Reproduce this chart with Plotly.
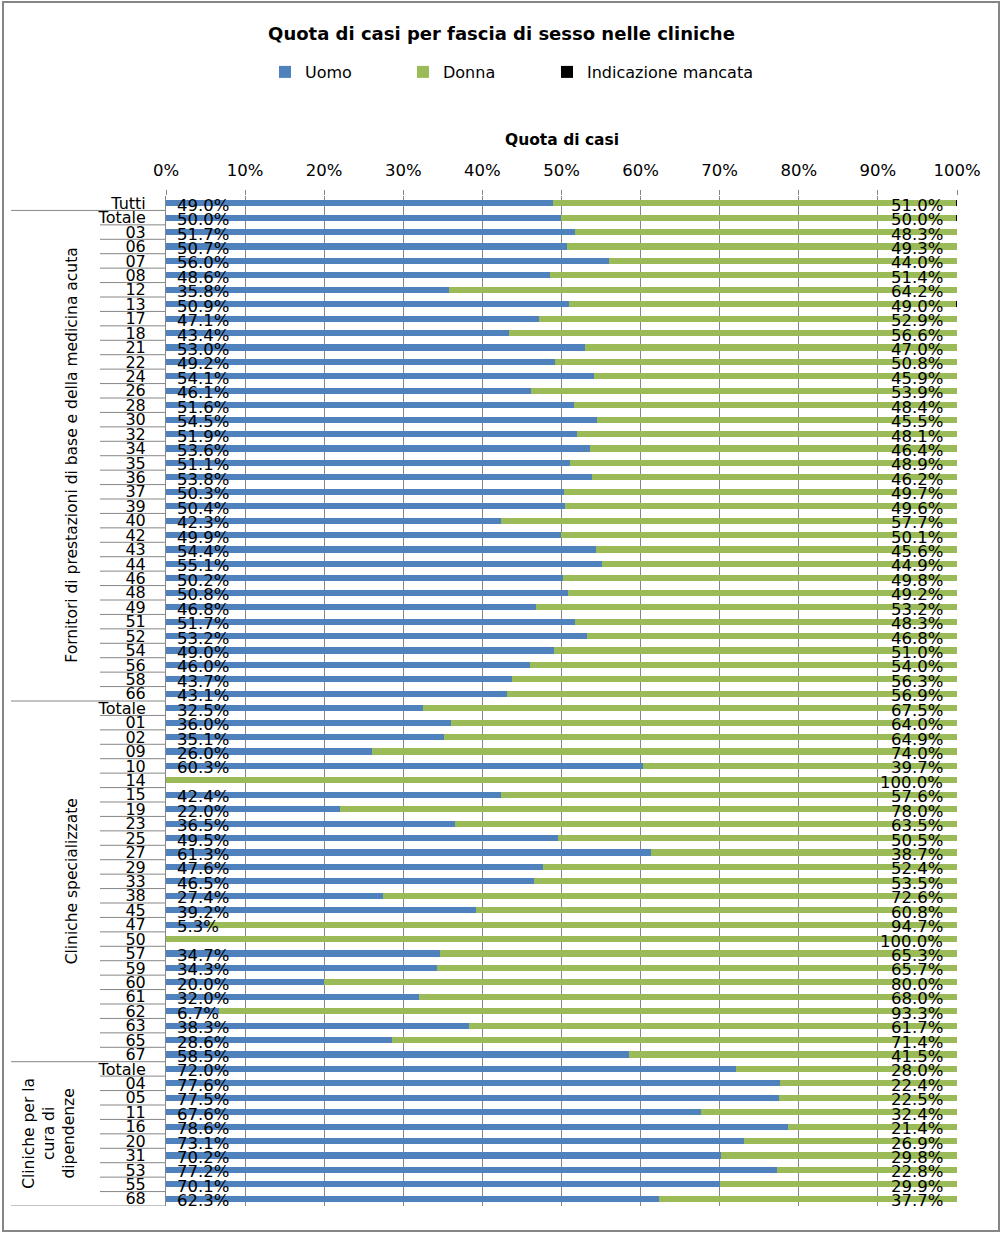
import plotly.graph_objects as go

# ---------------- data ----------------
group_names = [
    "",
    "Fornitori di prestazioni di base e della medicina acuta",
    "Cliniche specializzate",
    "Cliniche per la<br>cura di<br>dipendenze",
]
group_rows = [
    ["Tutti"],
    ["Totale", "03", "06", "07", "08", "12", "13", "17", "18", "21", "22", "24", "26", "28",
     "30", "32", "34", "35", "36", "37", "39", "40", "42", "43", "44", "46", "48", "49",
     "51", "52", "54", "56", "58", "66"],
    ["Totale", "01", "02", "09", "10", "14", "15", "19", "23", "25", "27", "29", "33", "38",
     "45", "47", "50", "57", "59", "60", "61", "62", "63", "65", "67"],
    ["Totale", "04", "05", "11", "16", "20", "31", "53", "55", "68"],
]

uomo = [
    49.0,
    50.0, 51.7, 50.7, 56.0, 48.6, 35.8, 50.9, 47.1, 43.4, 53.0, 49.2, 54.1, 46.1, 51.6,
    54.5, 51.9, 53.6, 51.1, 53.8, 50.3, 50.4, 42.3, 49.9, 54.4, 55.1, 50.2, 50.8, 46.8,
    51.7, 53.2, 49.0, 46.0, 43.7, 43.1,
    32.5, 36.0, 35.1, 26.0, 60.3, 0.0, 42.4, 22.0, 36.5, 49.5, 61.3, 47.6, 46.5, 27.4,
    39.2, 5.3, 0.0, 34.7, 34.3, 20.0, 32.0, 6.7, 38.3, 28.6, 58.5,
    72.0, 77.6, 77.5, 67.6, 78.6, 73.1, 70.2, 77.2, 70.1, 62.3,
]
donna = [
    51.0,
    50.0, 48.3, 49.3, 44.0, 51.4, 64.2, 49.0, 52.9, 56.6, 47.0, 50.8, 45.9, 53.9, 48.4,
    45.5, 48.1, 46.4, 48.9, 46.2, 49.7, 49.6, 57.7, 50.1, 45.6, 44.9, 49.8, 49.2, 53.2,
    48.3, 46.8, 51.0, 54.0, 56.3, 56.9,
    67.5, 64.0, 64.9, 74.0, 39.7, 100.0, 57.6, 78.0, 63.5, 50.5, 38.7, 52.4, 53.5, 72.6,
    60.8, 94.7, 100.0, 65.3, 65.7, 80.0, 68.0, 93.3, 61.7, 71.4, 41.5,
    28.0, 22.4, 22.5, 32.4, 21.4, 26.9, 29.8, 22.8, 29.9, 37.7,
]
mancata = [
    0.1,
    0.1, 0, 0, 0, 0, 0, 0.1, 0, 0, 0, 0, 0, 0, 0,
    0, 0, 0, 0, 0, 0, 0, 0, 0, 0, 0, 0, 0, 0,
    0, 0, 0, 0, 0, 0,
    0, 0, 0, 0, 0, 0, 0, 0, 0, 0, 0, 0, 0, 0,
    0, 0, 0, 0, 0, 0, 0, 0, 0, 0, 0,
    0, 0, 0, 0, 0, 0, 0, 0, 0, 0,
]
series_names = ["Uomo", "Donna", "Indicazione mancata"]
series_colors = ["#4F81BD", "#9BBB59", "#000000"]
x_ticks = list(range(0, 101, 10))

# ---------------- derived ----------------
labels = [lab for g in group_rows for lab in g]
n = len(labels)
pos = list(range(n))
totals = [u + d + m for u, d, m in zip(uomo, donna, mancata)]
shares = [[v / t * 100 for v, t in zip(s, totals)] for s in (uomo, donna, mancata)]

FONT = "DejaVu Sans"
GRID = "#868686"
PLOT_L, PLOT_W, PLOT_B, PLOT_H = 166, 791, 1206, 1010


def px2paper(px):
    return (px - PLOT_L) / PLOT_W


def py2paper(py):
    return (PLOT_B - py) / PLOT_H


fig = go.Figure()
legend_ids = ["legend", "legend2", "legend3"]
for name, col, sh, lg in zip(series_names, series_colors, shares, legend_ids):
    fig.add_trace(go.Bar(
        y=pos, x=sh, name=name, orientation="h", legend=lg, showlegend=True,
        marker=dict(color=col, line=dict(width=0)),
        hoverinfo="skip",
    ))

annotations = []
# data labels
for i in range(n):
    if uomo[i] > 0:
        annotations.append(dict(x=0, y=pos[i], xref="x", yref="y", text=f"{uomo[i]:.1f}%",
                                showarrow=False, xanchor="left", xshift=9, yshift=-2,
                                font=dict(family=FONT, size=16.5, color="#000000")))
    if donna[i] > 0:
        annotations.append(dict(x=100, y=pos[i], xref="x", yref="y", text=f"{donna[i]:.1f}%",
                                showarrow=False, xanchor="right", xshift=-12, yshift=-2,
                                font=dict(family=FONT, size=16.5, color="#000000")))

# separators and group labels
shapes = []
start = 0
for gi, (gname, rows) in enumerate(zip(group_names, group_rows)):
    end = start + len(rows)
    for k in range(start, end - 1):
        shapes.append(dict(type="line", xref="paper", yref="y", x0=px2paper(100), x1=0,
                           y0=k + 0.5, y1=k + 0.5, line=dict(color=GRID, width=1)))
    shapes.append(dict(type="line", xref="paper", yref="y", x0=px2paper(11), x1=0,
                       y0=end - 0.5, y1=end - 0.5, line=dict(color=GRID, width=1)))
    if gname:
        gx = 72 if gi != 3 else 49
        annotations.append(dict(x=px2paper(gx), y=(start + end - 1) / 2, xref="paper", yref="y",
                                text=gname, showarrow=False, textangle=-90,
                                xanchor="center", yanchor="middle",
                                font=dict(family=FONT, size=15.5, color="#000000")))
    start = end

# axis title
annotations.append(dict(x=0.5, y=py2paper(140), xref="paper", yref="paper",
                        text="<b>Quota di casi</b>", showarrow=False,
                        xanchor="center", yanchor="middle",
                        font=dict(family=FONT, size=15.5, color="#000000")))

# chart border
shapes.append(dict(type="rect", xref="paper", yref="paper",
                   x0=px2paper(3), x1=px2paper(999), y0=py2paper(1231), y1=py2paper(2),
                   line=dict(color="#868686", width=2), layer="below"))

legend_common = dict(orientation="h", yanchor="middle", y=py2paper(72), xanchor="left",
                     font=dict(family=FONT, size=16, color="#000000"), visible=True,
                     itemclick=False, itemdoubleclick=False, bgcolor="rgba(0,0,0,0)")

fig.update_layout(
    width=1003, height=1235,
    margin=dict(l=166, r=46, t=196, b=29, pad=0),
    paper_bgcolor="white", plot_bgcolor="white",
    showlegend=True,
    barmode="stack", bargap=0.58,
    title=dict(text="<b>Quota di casi per fascia di sesso nelle cliniche</b>",
               x=0.5, xanchor="center", y=1 - 34 / 1235, yanchor="middle",
               font=dict(family=FONT, size=18, color="#000000")),
    legend=dict(x=px2paper(265), **legend_common),
    legend2=dict(x=px2paper(403), **legend_common),
    legend3=dict(x=px2paper(547), **legend_common),
    xaxis=dict(side="top", range=[0, 100], tickvals=x_ticks,
               ticktext=[f"{v}%" for v in x_ticks],
               showgrid=True, gridcolor=GRID, gridwidth=1,
               ticks="outside", ticklen=5, tickcolor=GRID, ticklabelstandoff=7,
               showline=False, zeroline=False, fixedrange=True,
               tickfont=dict(family=FONT, size=16.5, color="#000000")),
    yaxis=dict(range=[n - 0.5, -0.5], tickvals=pos, ticktext=labels,
               showgrid=False, zeroline=False, showline=True, linecolor=GRID, linewidth=1,
               ticks="", ticklabelstandoff=16, fixedrange=True,
               tickfont=dict(family=FONT, size=16, color="#000000")),
    annotations=annotations,
    shapes=shapes,
    font=dict(family=FONT, color="#000000"),
)

fig.write_html("out.html")
